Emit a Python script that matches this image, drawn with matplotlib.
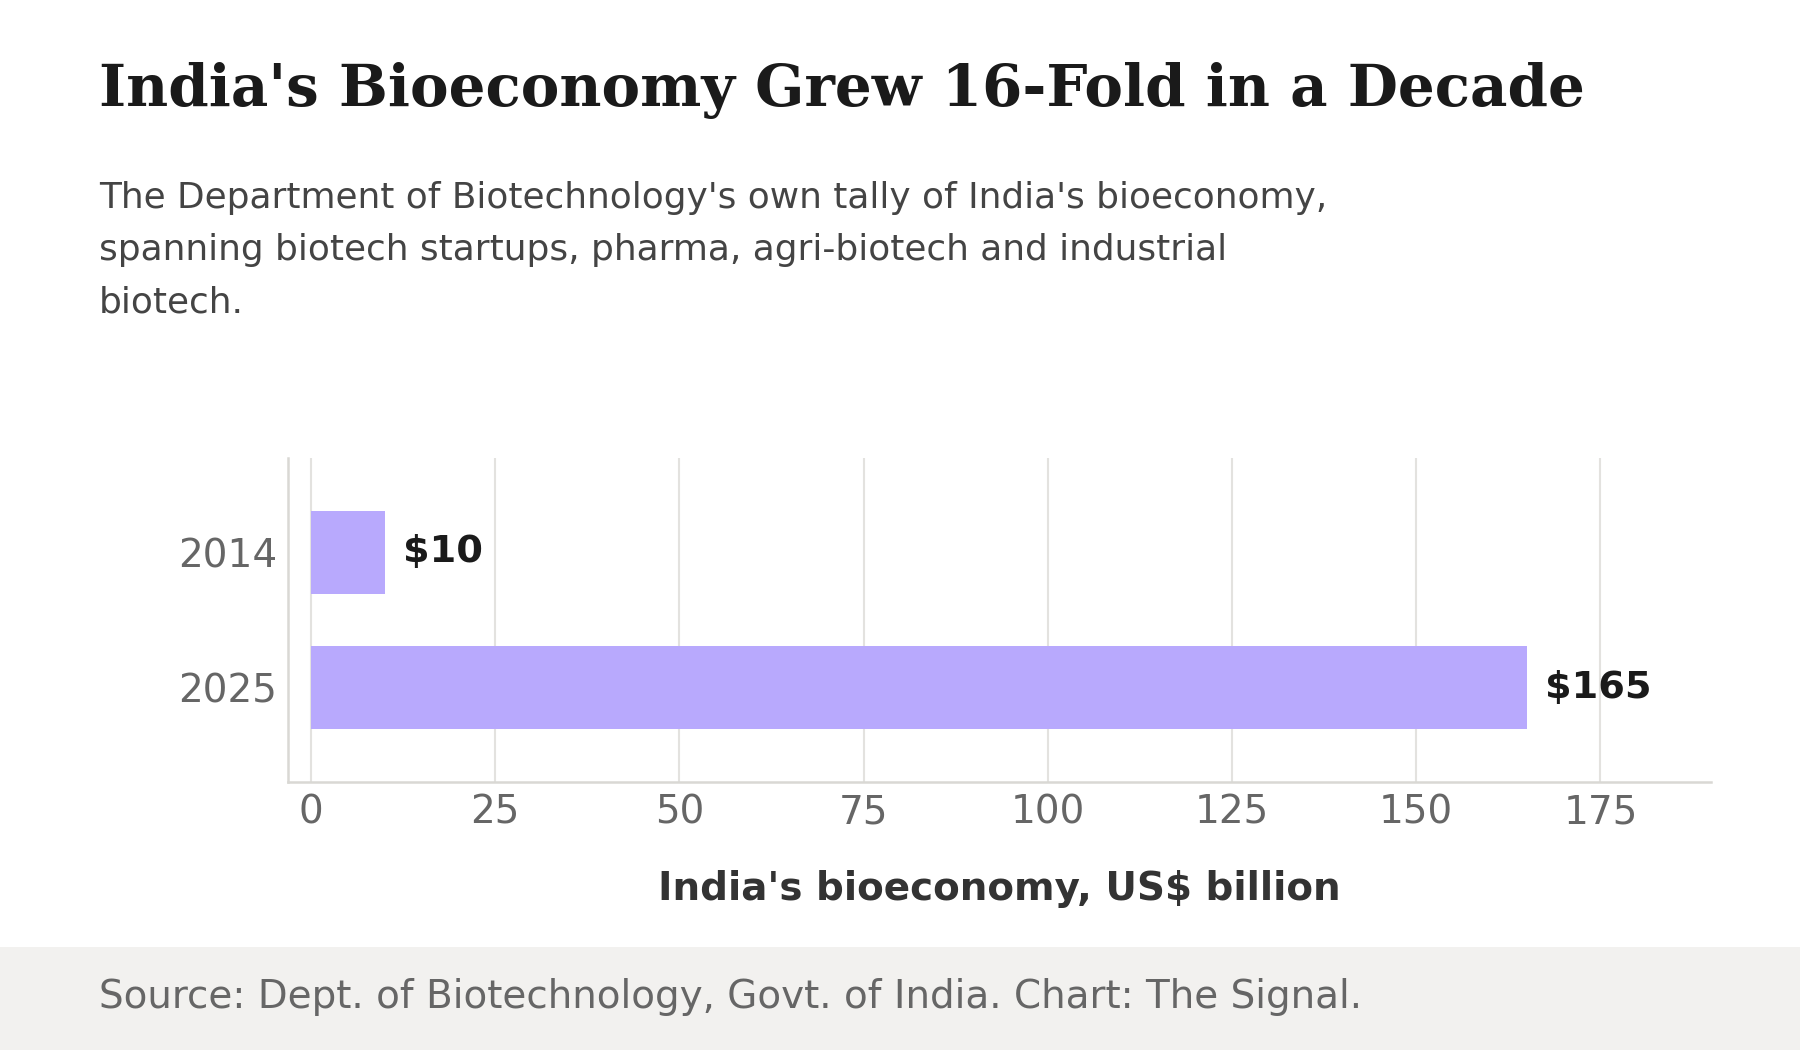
import matplotlib
matplotlib.use("Agg")
import matplotlib.pyplot as plt
from matplotlib.patches import Rectangle

years = ["2014", "2025"]
values = [10, 165]
value_labels = ["$10", "$165"]
xticks = [0, 25, 50, 75, 100, 125, 150, 175]

title = "India's Bioeconomy Grew 16-Fold in a Decade"
subtitle = ("The Department of Biotechnology's own tally of India's bioeconomy,\n"
            "spanning biotech startups, pharma, agri-biotech and industrial\n"
            "biotech.")
xlabel = "India's bioeconomy, US$ billion"
source = "Source: Dept. of Biotechnology, Govt. of India. Chart: The Signal."

W, H = 1800, 1050
fig = plt.figure(figsize=(18, 10.5), dpi=100)
fig.patch.set_facecolor("white")

# footer band
fig.patches.append(Rectangle((0, 0), 1, 1 - 947 / H, transform=fig.transFigure,
                             facecolor="#f2f1ef", edgecolor="none", zorder=0))

ax = fig.add_axes([288 / W, 1 - 782 / H, (1711 - 288) / W, (782 - 458) / H])
ax.set_facecolor("none")
ypos = list(range(len(years)))
ax.barh(ypos, values, height=0.615, color="#b8a9fd", zorder=2)
for y, v, lab in zip(ypos, values, value_labels):
    ax.annotate(lab, (v, y), xytext=(13, 0), textcoords="offset points",
                ha="left", va="center", fontsize=27.5, fontweight="bold",
                color="#1a1a1a", zorder=3)

ax.set_xlim(-3.1, 190)
ax.set_ylim(1.7, -0.7)
ax.set_yticks(ypos)
ax.set_yticklabels(years)
ax.set_xticks(xticks)
ax.tick_params(axis="both", length=0, labelsize=28, labelcolor="#666666")
ax.tick_params(axis="x", pad=8)
ax.tick_params(axis="y", pad=8)
ax.grid(axis="x", color="#e3e2df", linewidth=1.5, zorder=1)
ax.grid(axis="y", visible=False)
for s in ["top", "right"]:
    ax.spines[s].set_visible(False)
for s in ["left", "bottom"]:
    ax.spines[s].set_color("#d9d8d4")
    ax.spines[s].set_linewidth(1.8)
ax.set_xlabel(xlabel, fontsize=28, fontweight="bold", color="#333333", labelpad=28)

fig.text(99 / W, 1 - 106 / H, title, fontsize=41.7, fontweight="bold",
         family="DejaVu Serif", color="#1a1a1a", va="baseline", ha="left")
fig.text(99 / W, 1 - 181 / H, subtitle, fontsize=25.8, color="#444444",
         va="top", ha="left", linespacing=1.68)
fig.text(99 / W, 1 - 997 / H, source, fontsize=28, color="#666666",
         va="center", ha="left")

fig.savefig("out.png", dpi=100, facecolor="white")
